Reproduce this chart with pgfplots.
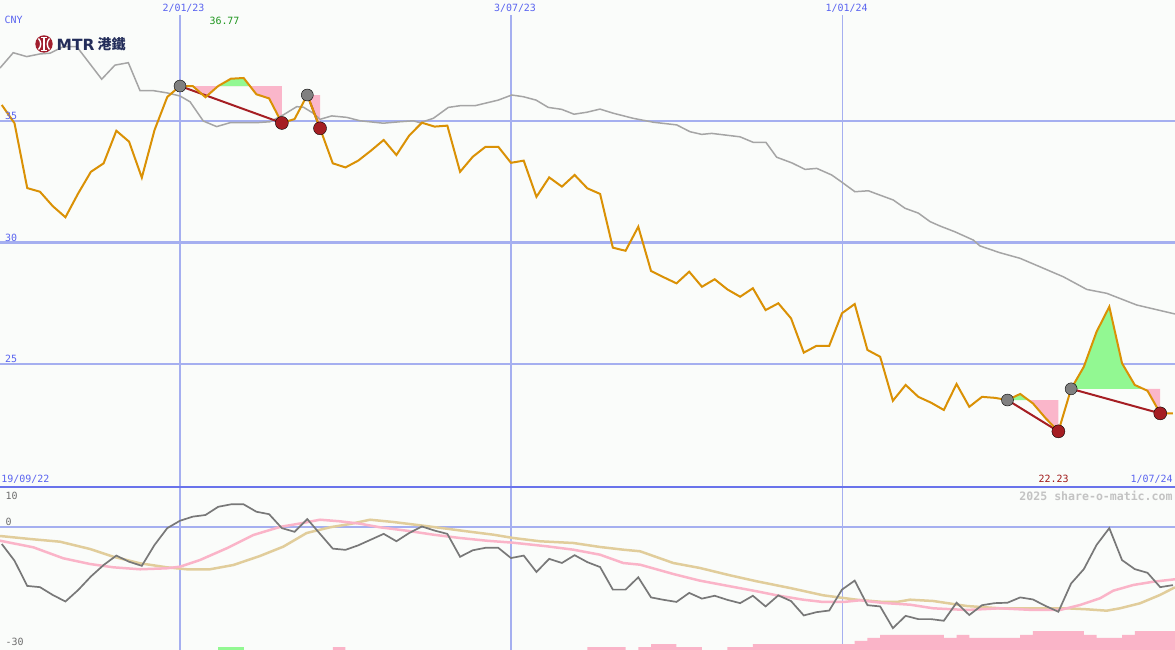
\documentclass[border=0pt]{standalone}
\usepackage{pgfplots}
\pgfplotsset{compat=1.18}
\usepackage{fontspec}
\setmainfont{DejaVu Sans}
\newfontfamily\monofont{DejaVu Sans Mono}
\newfontfamily\cjkfont{Noto Sans CJK TC}
\definecolor{bg}{RGB}{250,252,250}
\definecolor{gridblue}{RGB}{165,175,240}
\definecolor{sepblue}{RGB}{105,115,235}
\definecolor{lblblue}{RGB}{90,100,240}
\definecolor{pricec}{RGB}{218,145,5}
\definecolor{magray}{RGB}{165,165,165}
\definecolor{oscgray}{RGB}{120,120,120}
\definecolor{lpink}{RGB}{250,180,200}
\definecolor{ltan}{RGB}{225,205,155}
\definecolor{fillpink}{RGB}{250,182,202}
\definecolor{fillgreen}{RGB}{146,248,146}
\definecolor{dkred}{RGB}{165,30,35}
\definecolor{circgray}{RGB}{128,128,128}
\definecolor{mtrred}{RGB}{160,30,45}
\definecolor{navy}{RGB}{35,45,90}
\definecolor{lblgreen}{RGB}{30,150,30}
\definecolor{lblred}{RGB}{160,25,25}
\definecolor{lblgray}{RGB}{110,110,110}
\definecolor{wmgray}{RGB}{195,195,195}

\pgfplotstableread{
w v
-14 35.66
-13 34.91
-12 32.24
-11 32.09
-10 31.50
-9 31.04
-8 32.02
-7 32.91
-6 33.26
-5 34.60
-4 34.15
-3 32.67
-2 34.63
-1 35.99
0 36.44
1 36.44
2 35.98
3 36.44
4 36.74
5 36.77
6 36.10
7 35.93
8 34.92
9 35.08
10 36.07
11 34.70
12 33.26
13 33.09
14 33.37
15 33.78
16 34.22
17 33.60
18 34.40
19 34.93
20 34.77
21 34.81
22 32.91
23 33.53
24 33.94
25 33.94
26 33.28
27 33.37
28 31.88
29 32.68
30 32.30
31 32.78
32 32.23
33 32.00
34 29.79
35 29.66
36 30.65
37 28.83
38 28.57
39 28.32
40 28.80
41 28.18
42 28.49
43 28.07
44 27.77
45 28.12
46 27.22
47 27.50
48 26.88
49 25.47
50 25.75
51 25.75
52 27.09
53 27.47
54 25.58
55 25.30
56 23.49
57 24.14
58 23.65
59 23.41
60 23.11
61 24.18
62 23.24
63 23.65
64 23.61
65 23.52
66 23.77
67 23.38
68 22.77
69 22.23
70 23.98
71 24.89
72 26.33
73 27.36
74 25.03
75 24.14
76 23.90
77 22.97
78 22.97
}\price

\pgfplotstableread{
w v
-14.14 37.18
-13.10 37.81
-12.04 37.65
-11.00 37.76
-10.21 37.79
-9.17 38.06
-8.11 38.06
-6.15 36.72
-5.11 37.30
-4.06 37.40
-3.14 36.25
-2.10 36.25
-1.04 36.16
0.00 36.03
0.79 35.79
1.83 35.00
2.88 34.77
3.93 34.93
5.97 34.93
7.07 34.97
8.11 35.25
9.17 35.59
9.69 35.57
10.47 35.32
11.00 35.07
11.92 35.21
13.10 35.15
14.14 35.01
15.97 34.91
17.28 34.97
18.33 35.01
18.85 34.93
19.90 35.11
21.08 35.56
22.00 35.63
23.17 35.63
25.00 35.86
26.06 36.07
26.97 36.00
27.97 35.86
28.93 35.56
29.98 35.48
30.95 35.28
31.95 35.36
32.99 35.49
34.04 35.32
35.61 35.11
37.18 34.95
39.02 34.84
40.06 34.56
40.98 34.45
41.77 34.49
43.99 34.35
45.04 34.12
46.03 34.12
46.87 33.51
48.05 33.28
49.10 33.01
50.02 33.05
51.19 32.78
51.84 32.54
53.02 32.09
54.07 32.13
54.73 32.00
56.03 31.75
56.95 31.41
58.00 31.21
58.92 30.86
59.70 30.68
60.88 30.44
62.32 30.10
62.84 29.86
64.41 29.58
65.99 29.35
67.56 29.00
69.39 28.59
71.23 28.07
72.80 27.91
75.15 27.43
78.16 27.06
}\mavg

\pgfplotstableread{
w v
-14 -4.07
-13 -8.15
-12 -14.3
-11 -14.6
-10 -16.5
-9 -18.1
-8 -15.3
-7 -12.0
-6 -9.2
-5 -6.9
-4 -8.4
-3 -9.4
-2 -4.3
-1 -0.2
0 1.6
1 2.6
2 3.0
3 5.0
4 5.6
5 5.6
6 3.8
7 3.2
8 -0.2
9 -1.1
10 2.0
11 -1.6
12 -5.2
13 -5.5
14 -4.4
15 -3.0
16 -1.6
17 -3.4
18 -1.4
19 0.2
20 -0.8
21 -1.6
22 -7.2
23 -5.6
24 -5.0
25 -5.0
26 -7.5
27 -6.9
28 -10.9
29 -7.7
30 -8.7
31 -6.8
32 -8.5
33 -9.7
34 -15.2
35 -15.2
36 -12.2
37 -17.1
38 -17.7
39 -18.2
40 -16.0
41 -17.4
42 -16.7
43 -17.7
44 -18.5
45 -16.7
46 -19.3
47 -16.6
48 -18.0
49 -21.5
50 -20.7
51 -20.3
52 -15.2
53 -13.0
54 -19.0
55 -19.3
56 -24.6
57 -21.6
58 -22.4
59 -22.4
60 -22.8
61 -18.4
62 -21.4
63 -19.0
64 -18.5
65 -18.4
66 -17.1
67 -17.6
68 -19.2
69 -20.6
70 -13.7
71 -10.2
72 -4.3
73 -0.2
74 -8.0
75 -10.2
76 -11.1
77 -14.6
78 -14.1
}\osc

\pgfplotstableread{
w v
-14.14 -3.27
-11.52 -4.88
-9.17 -7.56
-7.07 -8.95
-5.24 -9.76
-3.14 -10.24
-1.04 -10.00
0.00 -9.61
1.57 -7.98
3.67 -5.12
5.76 -1.88
7.86 0.10
9.43 0.93
11.00 1.85
12.57 1.46
14.14 0.88
15.71 0.00
17.81 -0.83
19.90 -1.80
22.00 -2.61
24.09 -3.27
26.18 -3.76
28.81 -4.63
30.90 -5.46
32.99 -6.68
34.82 -8.71
36.14 -9.12
38.75 -11.39
40.85 -13.02
43.20 -14.39
45.30 -15.61
46.87 -16.59
48.96 -17.66
50.53 -18.22
52.10 -18.22
53.42 -17.80
55.25 -18.46
57.35 -18.88
59.17 -19.76
61.80 -20.17
64.41 -19.76
67.03 -20.17
69.13 -20.17
70.70 -18.95
72.27 -17.32
73.31 -15.46
74.89 -14.07
76.46 -13.27
78.16 -12.68
}\pinkline

\pgfplotstableread{
w v
-14.14 -2.12
-11.52 -2.93
-9.43 -3.51
-7.07 -5.29
-5.24 -7.17
-3.14 -8.78
-1.04 -9.76
0.53 -10.24
2.36 -10.24
4.19 -9.20
6.28 -7.00
8.11 -4.73
9.95 -1.39
11.78 0.00
13.35 0.80
14.93 1.85
16.76 1.29
18.85 0.49
20.95 -0.34
22.52 -0.98
24.61 -1.80
26.18 -2.61
28.28 -3.41
30.90 -3.83
32.99 -4.80
34.82 -5.46
36.14 -5.85
38.75 -8.71
40.85 -9.93
43.20 -11.71
45.30 -13.17
47.91 -14.80
50.53 -16.59
52.10 -17.24
53.15 -17.66
55.25 -18.22
56.30 -18.22
57.35 -17.66
59.17 -17.98
61.80 -19.20
64.41 -19.76
67.03 -19.76
69.65 -19.76
71.22 -20.00
72.80 -20.34
73.84 -19.76
75.41 -18.54
76.98 -16.51
78.16 -14.63
}\tanline

\tikzset{lbl/.style={font=\monofont\fontsize{10}{12}\selectfont, inner sep=0pt}}

\begin{document}
\begin{tikzpicture}[x=1bp,y=1bp]
\fill[bg] (0,0) rectangle (1175,650);
\useasboundingbox (0,0) rectangle (1175,650);
% vertical date lines
\draw[gridblue, line width=1.4bp] (180,0) -- (180,635);
\draw[gridblue, line width=2bp] (511,0) -- (511,635);
\draw[gridblue, line width=1bp] (842,0) -- (842,635);

% ---------- upper panel ----------
\begin{scope}[yshift=162bp]
\begin{axis}[at={(0bp,0bp)}, anchor=south west, scale only axis,
  width=1175bp, height=488bp,
  xmin=-14.14, xmax=78.16, ymin=19.9, ymax=39.98,
  axis line style={draw=none}, xtick=\empty, ytick={25,30,35}, yticklabels={},
  major tick length=0pt, ymajorgrids, grid style={gridblue, line width=2.5bp}]
% shaded zones
\addplot[fill=fillpink, draw=none] coordinates {(0,36.44) (8,36.44) (8,34.92) (7,35.93) (6,36.10) (5.49,36.44) (3,36.44) (2,35.98) (1,36.44)};
\addplot[fill=fillgreen, draw=none] coordinates {(3,36.44) (4,36.74) (5,36.77) (5.49,36.44)};
\addplot[fill=fillpink, draw=none] coordinates {(10,36.07) (11,36.07) (11,34.70)};
\addplot[fill=fillgreen, draw=none] coordinates {(65,23.52) (66,23.77) (66.64,23.52)};
\addplot[fill=fillpink, draw=none] coordinates {(66.64,23.52) (69,23.52) (69,22.23) (68,22.77) (67,23.38)};
\addplot[fill=fillgreen, draw=none] coordinates {(70,23.98) (71,24.89) (72,26.33) (73,27.36) (74,25.03) (75,24.14) (75.67,23.98)};
\addplot[fill=fillpink, draw=none] coordinates {(75.67,23.98) (77,23.98) (77,22.97) (76,23.90)};
% moving average
\addplot[magray, line width=1.5bp] table[x=w,y=v] {\mavg};
% circles
\addplot[only marks, mark=*, mark size=6bp, mark options={fill=circgray, draw=none}] coordinates {(0,36.44) (10,36.07) (65,23.52) (70,23.98)};
\addplot[only marks, mark=*, mark size=6.5bp, mark options={fill=dkred, draw=none}] coordinates {(8,34.92) (11,34.70) (69,22.23) (77,22.97)};
% trend lines
\addplot[dkred, line width=2bp] coordinates {(0,36.44) (8,34.92)};
\addplot[dkred, line width=2bp] coordinates {(10,36.07) (11,34.70)};
\addplot[dkred, line width=2bp] coordinates {(65,23.52) (69,22.23)};
\addplot[dkred, line width=2bp] coordinates {(70,23.98) (77,22.97)};
% price
\addplot[pricec, line width=2bp] table[x=w,y=v] {\price};
\end{axis}
\end{scope}

% ---------- lower panel ----------
\begin{axis}[at={(0bp,0bp)}, anchor=south west, scale only axis,
  width=1175bp, height=162bp,
  xmin=-14.14, xmax=78.16, ymin=-29.93, ymax=9.59,
  axis line style={draw=none}, xtick=\empty, ytick={0}, yticklabels={},
  major tick length=0pt, ymajorgrids, grid style={gridblue, line width=2bp}]
\addplot[fill=fillgreen, draw=none] coordinates {(3,-30) (3,-29.2) (5,-29.2) (5,-30)};
\addplot[const plot, fill=lpink, draw=none] coordinates {(12,-30) (12,-29.2) (13,-30) (32,-29.2) (35,-30) (36,-29.2) (37,-28.47) (39,-29.2) (41,-30) (43,-29.2) (45,-28.47) (53,-27.73) (54,-27.0) (55,-26.27) (60,-27.0) (61,-26.27) (62,-27.0) (66,-26.27) (67,-25.3) (71,-26.27) (72,-27.0) (74,-26.27) (75,-25.3) (78.2,-25.3) (78.2,-30)};
\addplot[ltan, line width=2.5bp] table[x=w,y=v] {\tanline};
\addplot[lpink, line width=2.5bp] table[x=w,y=v] {\pinkline};
\addplot[oscgray, line width=1.7bp] table[x=w,y=v] {\osc};
\end{axis}

\draw[sepblue, line width=2bp] (0,163) -- (1175,163);

% ---------- texts ----------
\node[lbl, anchor=west, lblblue] at (4.5,630) {CNY};
\node[lbl, anchor=west, lblblue] at (5,534) {35};
\node[lbl, anchor=west, lblblue] at (5,412) {30};
\node[lbl, anchor=west, lblblue] at (5,291) {25};
\node[lbl, lblblue] at (183.5,641.5) {2/01/23};
\node[lbl, lblblue] at (515,641.5) {3/07/23};
\node[lbl, lblblue] at (846.5,641.5) {1/01/24};
\node[lbl, lblgreen] at (224.5,629) {36.77};
\node[lbl, lblblue] at (25.3,171) {19/09/22};
\node[lbl, lblblue] at (1151.7,171) {1/07/24};
\node[lbl, lblred] at (1053.5,171) {22.23};
\node[inner sep=0pt, wmgray, font=\monofont\bfseries\fontsize{11.6}{13}\selectfont] at (1096,154.3) {2025 share-o-matic.com};
\node[lbl, anchor=west, lblgray] at (5.5,154) {10};
\node[lbl, anchor=west, lblgray] at (5.5,128.5) {0};
\node[lbl, anchor=west, lblgray] at (5.5,8) {-30};

% ---------- MTR logo ----------
\fill[mtrred] (44,606) circle (8.7);
\draw[white, line width=1.5bp] (44,599.5) -- (44,612.5);
\draw[white, line width=1.4bp] (41,599.5) -- (47,599.5) (41,612.5) -- (47,612.5);
\draw[white, line width=1.4bp] (38.5,600.5) .. controls (41.5,604) and (41.5,608) .. (38.5,611.5);
\draw[white, line width=1.4bp] (49.5,600.5) .. controls (46.5,604) and (46.5,608) .. (49.5,611.5);
\node[anchor=west, inner sep=0pt, navy, font=\bfseries\fontsize{15.5}{16}\selectfont] at (56.5,605.4) {MTR};
\node[anchor=west, inner sep=0pt, navy, font=\cjkfont\bfseries\fontsize{14}{15}\selectfont] at (97.5,606) {港鐵};
\end{tikzpicture}
\end{document}
